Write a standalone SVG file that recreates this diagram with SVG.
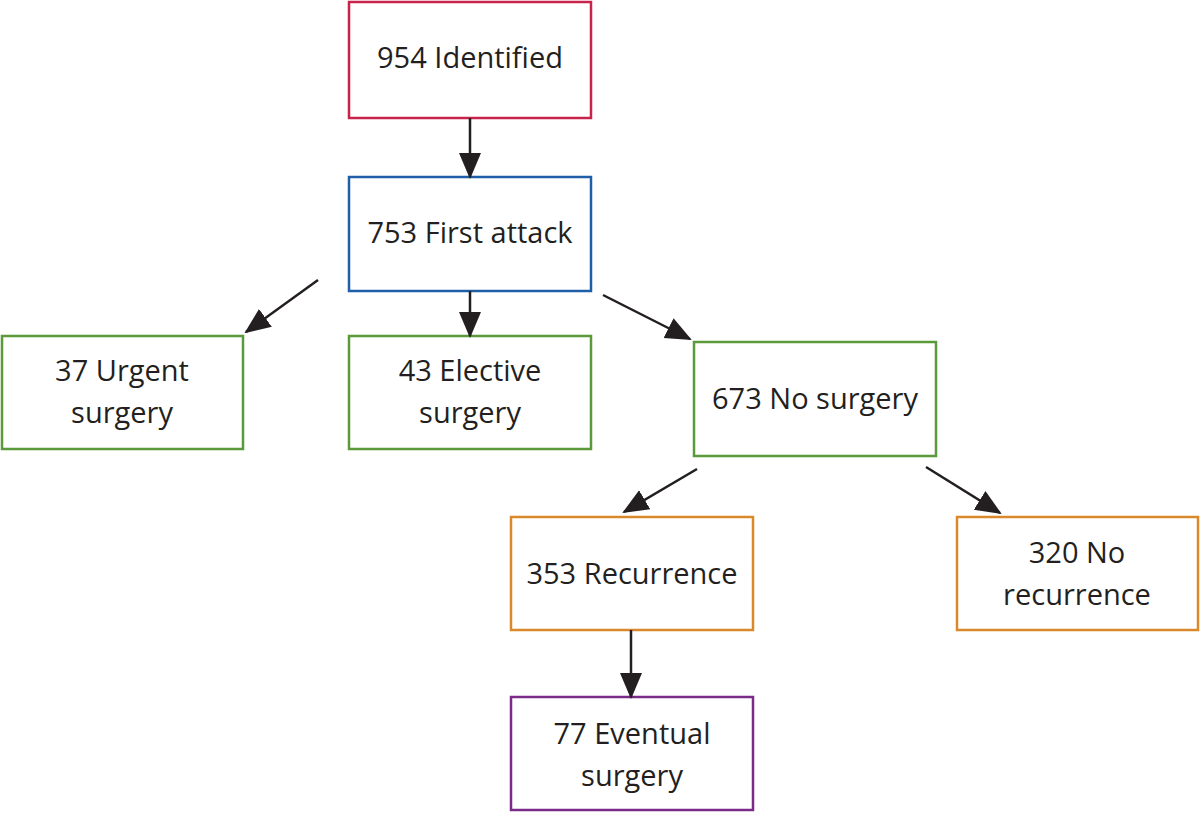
<svg xmlns="http://www.w3.org/2000/svg" width="1200" height="813" viewBox="0 0 1200 813">
<defs>
<marker id="ah" markerWidth="10" markerHeight="10" refX="8" refY="5" orient="auto" markerUnits="userSpaceOnUse" viewBox="0 0 10 10">
<path d="M0,0 L10,5 L0,10 z" fill="#231f20"/>
</marker>
<style>
rect{fill:#fff;stroke-width:2.5}
text{font-family:"Open Sans","Liberation Sans",sans-serif;font-size:29px;fill:#231f20;text-anchor:middle}
.c line{stroke:#231f20;stroke-width:2.5}
.r{stroke:#c8234a}.b{stroke:#1f5fa8}.g{stroke:#5a9a3a}.o{stroke:#d9892b}.p{stroke:#7b2a8a}
</style>
<marker id="a" markerWidth="26" markerHeight="26" refX="24" refY="13" orient="auto" markerUnits="userSpaceOnUse" viewBox="0 0 26 26">
<path d="M0,2 L26,13 L0,24 z" fill="#231f20"/>
</marker>
</defs>
<rect width="1200" height="813" fill="#fff" stroke="none"/>
<g id="n1"><rect class="r" x="349" y="2" width="242" height="116"/><text x="470" y="68">954 Identified</text></g>
<g id="n2"><rect class="b" x="349" y="177" width="242" height="114"/><text x="470" y="243">753 First attack</text></g>
<g id="n3"><rect class="g" x="2" y="336" width="241" height="113"/><text x="122" y="381">37 Urgent</text><text x="122" y="423">surgery</text></g>
<g id="n4"><rect class="g" x="349" y="336" width="242" height="113"/><text x="470" y="381">43 Elective</text><text x="470" y="423">surgery</text></g>
<g id="n5"><rect class="g" x="694" y="342" width="242" height="114"/><text x="815" y="409">673 No surgery</text></g>
<g id="n6"><rect class="o" x="511" y="517" width="242" height="113"/><text x="632" y="584">353 Recurrence</text></g>
<g id="n7"><rect class="o" x="957" y="517" width="241" height="113"/><text x="1077" y="563">320 No</text><text x="1077" y="605">recurrence</text></g>
<g id="n8"><rect class="p" x="511" y="697" width="242" height="113"/><text x="632" y="744">77 Eventual</text><text x="632" y="786">surgery</text></g>
<g id="connectors" class="c">
<line x1="470" y1="118" x2="470" y2="177" marker-end="url(#a)"/>
<line x1="470" y1="291" x2="470" y2="336" marker-end="url(#a)"/>
<line x1="318" y1="280" x2="246" y2="332" marker-end="url(#a)"/>
<line x1="603" y1="295" x2="690" y2="339" marker-end="url(#a)"/>
<line x1="697" y1="469" x2="624" y2="512" marker-end="url(#a)"/>
<line x1="926" y1="467" x2="1000" y2="513" marker-end="url(#a)"/>
<line x1="631" y1="630" x2="631" y2="697" marker-end="url(#a)"/>
</g>
</svg>
